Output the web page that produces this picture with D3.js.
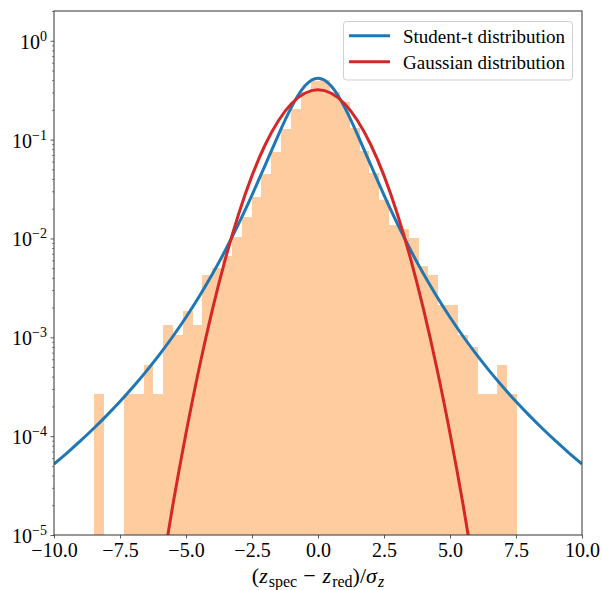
<!DOCTYPE html>
<html>
<head>
<meta charset="utf-8">
<script src="https://cdn.jsdelivr.net/npm/d3@7"></script>
<style>
  body { margin: 0; background: #fff; }
  svg { display: block; font-family: "Liberation Serif", "DejaVu Serif", serif; }
</style>
</head>
<body>
<svg width="602" height="590"></svg>
<script>
const width = 602;
const height = 590;
const margin = {left: 54, right: 20, top: 11, bottom: 55};

// histogram of (z_spec - z_red)/sigma_z : 43 equal bins starting at binStart
const binStart = -8.47;
const binWidth = 0.3721;
const sampleSize = 10180;
const binCounts = [
  1, 0, 0, 1, 1, 2, 1, 5, 4, 7, 5, 16,
  19, 25, 39, 62, 100, 170, 285, 480, 775, 1140, 1480, 1530, 1150, 920, 500, 289, 175,
  92, 52, 47, 38, 20, 16, 8, 8, 4, 3, 1, 1, 2, 1
];

// fitted curves
const tX = d3.range(-10, 10.01, 0.5);
const tDensity = [
  5.23e-5, 6.79e-5, 8.94e-5, 1.195e-4, 1.622e-4, 2.241e-4, 3.158e-4, 4.548e-4, 6.713e-4, 1.019e-3,
  1.595e-3, 2.587e-3, 4.36e-3, 7.688e-3, 0.01419, 0.02744, 0.0551, 0.1116, 0.2141, 0.3479,
  0.418,
  0.3479, 0.2141, 0.1116, 0.0551, 0.02744, 0.01419, 7.688e-3, 4.36e-3, 2.587e-3, 1.595e-3,
  1.019e-3, 6.713e-4, 4.548e-4, 3.158e-4, 2.241e-4, 1.622e-4, 1.195e-4, 8.94e-5, 6.79e-5, 5.23e-5
];
const gX = d3.range(-6, 6.01, 0.5);
const gDensity = [
  3.17e-6, 1.996e-5, 1.071e-4, 4.895e-4, 1.907e-3, 6.331e-3, 0.01791, 0.04319, 0.0887, 0.1553, 0.2317, 0.2946,
  0.3191,
  0.2946, 0.2317, 0.1553, 0.0887, 0.04319, 0.01791, 6.331e-3, 1.907e-3, 4.895e-4, 1.071e-4, 1.996e-5, 3.17e-6
];

const xTicks = [-10, -7.5, -5, -2.5, 0, 2.5, 5, 7.5, 10];
const yTicks = [1e-5, 1e-4, 1e-3, 1e-2, 1e-1, 1];
const yTickExp = ["\u22125", "\u22124", "\u22123", "\u22122", "\u22121", "0"];

const legendLabels = ["Student-t distribution", "Gaussian distribution"];
const legendColors = ["#1f77b4", "#d62728"];

const svg = d3.select("svg");

const xScale = d3.scaleLinear()
  .domain([-10, 10])
  .range([margin.left, width - margin.right]);

const yScale = d3.scaleLog()
  .domain([1e-5, 2])
  .range([height - margin.bottom, margin.top]);

const plotW = width - margin.left - margin.right;
const plotH = height - margin.top - margin.bottom;

svg.append("clipPath").attr("id", "clip")
  .append("rect")
  .attr("x", margin.left).attr("y", margin.top)
  .attr("width", plotW).attr("height", plotH);

// bars
const bins = binCounts.map((c, i) => ({
  x0: binStart + i * binWidth,
  x1: binStart + (i + 1) * binWidth,
  density: c / (sampleSize * binWidth)
})).filter(d => d.density > 0);

svg.append("g")
  .attr("clip-path", "url(#clip)")
  .selectAll("rect")
  .data(bins)
  .enter()
  .append("rect")
  .attr("x", d => xScale(d.x0))
  .attr("width", d => xScale(d.x1) - xScale(d.x0))
  .attr("y", d => yScale(d.density))
  .attr("height", d => yScale(1e-5) - yScale(d.density))
  .attr("fill", "#ff7f0e")
  .attr("fill-opacity", 0.4)
  .attr("shape-rendering", "crispEdges");

// curves
const line = d3.line()
  .x(d => xScale(d[0]))
  .y(d => yScale(d[1]))
  .curve(d3.curveNatural);

const curves = svg.append("g").attr("clip-path", "url(#clip)");

curves.append("path")
  .attr("d", line(tX.map((x, i) => [x, tDensity[i]])))
  .attr("fill", "none")
  .attr("stroke", legendColors[0])
  .attr("stroke-width", 3);

curves.append("path")
  .attr("d", line(gX.map((x, i) => [x, gDensity[i]])))
  .attr("fill", "none")
  .attr("stroke", legendColors[1])
  .attr("stroke-width", 3);

// axes
const xAxis = d3.axisBottom(xScale)
  .tickValues(xTicks)
  .tickFormat(d3.format(".1f"))
  .tickSize(3.5)
  .tickPadding(4);

svg.append("g")
  .attr("transform", `translate(0,${height - margin.bottom})`)
  .call(xAxis)
  .call(g => g.select(".domain").remove())
  .call(g => g.selectAll("line").attr("stroke", "#333").attr("stroke-width", 0.8))
  .call(g => g.selectAll("text")
    .attr("fill", "#000")
    .style("font-family", "Liberation Serif, serif")
    .style("font-size", "20px"));

const minorTicks = [];
for (let e = -5; e <= 0; e++) {
  for (let m = 2; m <= 9; m++) {
    const v = m * Math.pow(10, e);
    if (v <= 2) minorTicks.push(v);
  }
}

svg.append("g")
  .attr("transform", `translate(${margin.left},0)`)
  .call(d3.axisLeft(yScale).tickValues(minorTicks).tickFormat("").tickSize(2))
  .call(g => g.select(".domain").remove())
  .call(g => g.selectAll("line").attr("stroke", "#333").attr("stroke-width", 0.6));

svg.append("g")
  .attr("transform", `translate(${margin.left},0)`)
  .call(d3.axisLeft(yScale).tickValues(yTicks).tickFormat("").tickSize(3.5))
  .call(g => g.select(".domain").remove())
  .call(g => g.selectAll("line").attr("stroke", "#333").attr("stroke-width", 0.8));

const yLabels = svg.append("g");
yTicks.forEach((v, i) => {
  const t = yLabels.append("text")
    .attr("x", margin.left - 7)
    .attr("y", yScale(v) + 8)
    .attr("text-anchor", "end")
    .style("font-size", "20px");
  t.append("tspan").text("10");
  t.append("tspan").attr("dy", -8).style("font-size", "14px").text(yTickExp[i]);
});

// frame
svg.append("rect")
  .attr("x", margin.left).attr("y", margin.top)
  .attr("width", plotW).attr("height", plotH)
  .attr("fill", "none")
  .attr("stroke", "#333")
  .attr("stroke-width", 1);

// x label
const xl = svg.append("text")
  .attr("x", xScale(0))
  .attr("y", 583)
  .attr("text-anchor", "middle")
  .style("font-size", "22px");
xl.append("tspan").text("(");
xl.append("tspan").style("font-style", "italic").text("z");
xl.append("tspan").attr("dy", 4).attr("dx", 1).style("font-size", "16px").text("spec");
xl.append("tspan").attr("dy", -4).attr("dx", 6).text("\u2212");
xl.append("tspan").attr("dx", 7).style("font-style", "italic").text("z");
xl.append("tspan").attr("dy", 4).attr("dx", 1).style("font-size", "16px").text("red");
xl.append("tspan").attr("dy", -4).text(")/");
xl.append("tspan").style("font-style", "italic").text("\u03c3");
xl.append("tspan").attr("dy", 4).attr("dx", 1).style("font-size", "16px").style("font-style", "italic").text("z");

// legend
const legend = svg.append("g");
legend.append("rect")
  .attr("x", 343.5).attr("y", 21.5)
  .attr("width", 229).attr("height", 58.5)
  .attr("rx", 3)
  .attr("fill", "#fff").attr("fill-opacity", 0.8)
  .attr("stroke", "#d0d0d0").attr("stroke-width", 1);

legendLabels.forEach((label, i) => {
  const yy = 35.7 + i * 26;
  legend.append("line")
    .attr("x1", 349).attr("x2", 390)
    .attr("y1", yy).attr("y2", yy)
    .attr("stroke", legendColors[i])
    .attr("stroke-width", 3);
  legend.append("text")
    .attr("x", 403)
    .attr("y", yy + 7)
    .style("font-size", "19px")
    .text(label);
});
</script>
</body>
</html>
